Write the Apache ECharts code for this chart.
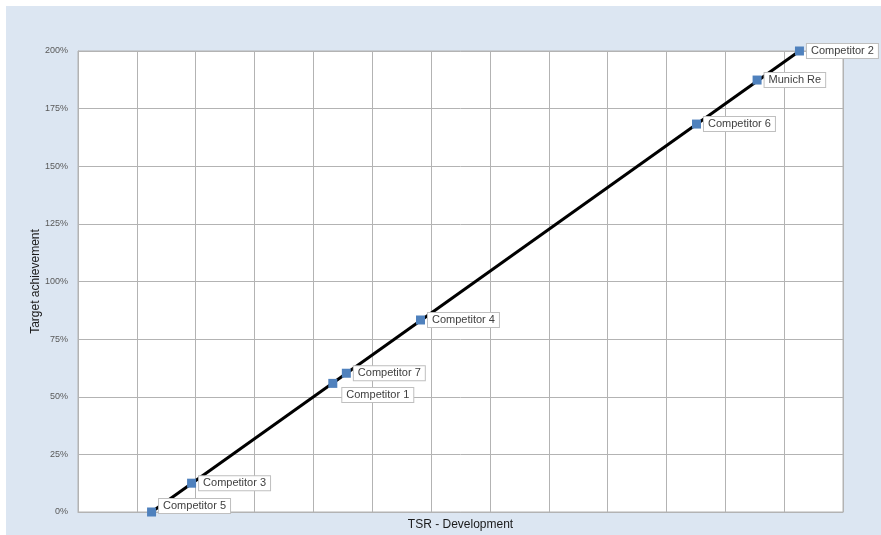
<!DOCTYPE html>
<html>
<head>
<meta charset="utf-8">
<script src="https://cdn.jsdelivr.net/npm/echarts@6/dist/echarts.min.js"></script>
<style>
  html, body { margin: 0; padding: 0; background: #fff; }
  #wrap { position: relative; width: 881px; height: 535px; overflow: hidden; }
  #chart { position: absolute; left: 6px; top: 6px; width: 875px; height: 529px; }
</style>
</head>
<body>
<div id="wrap"><div id="chart"></div></div>
<script>
// companies, ordered along the line
const names = ['Competitor 5', 'Competitor 3', 'Competitor 1', 'Competitor 7',
    'Competitor 4', 'Competitor 6', 'Munich Re', 'Competitor 2'];
// TSR development (x, no labels shown in the original)
const tsr = [1.25, 1.93, 4.33, 4.56, 5.82, 10.51, 11.54, 12.26];
// target achievement in %
const target = [0, 12.5, 55.8, 60.2, 83.3, 168.3, 187.4, 200];
const yTicks = [0, 25, 50, 75, 100, 125, 150, 175, 200];

const font = '"Liberation Sans", Arial, sans-serif';

var chart = echarts.init(document.getElementById('chart'));

var points = names.map((n, i) => {
    var item = { name: n, value: [tsr[i], target[i]] };
    if (n === 'Competitor 1') {
        item.label = { position: [14, 9], align: 'left', verticalAlign: 'top' };
    }
    if (n === 'Competitor 5') {
        item.label = { offset: [0, -6] };
    }
    return item;
});

var option = {
    backgroundColor: '#dce6f2',
    animation: false,
    grid: {
        left: 72, top: 45, width: 765, height: 461,
        outerBoundsMode: 'none',
        show: true, backgroundColor: '#fff', borderColor: '#b3b3b3', borderWidth: 1
    },
    xAxis: {
        type: 'value',
        min: 0,
        max: 13,
        interval: 1,
        name: 'TSR - Development',
        nameLocation: 'middle',
        nameGap: 7,
        nameMoveOverlap: false,
        nameTextStyle: { color: '#1a1a1a', fontSize: 12, fontFamily: font, verticalAlign: 'top' },
        axisLine: { show: true, lineStyle: { color: '#b3b3b3' } },
        axisTick: { show: false },
        axisLabel: { show: false },
        splitLine: { show: true, lineStyle: { color: '#b3b3b3', width: 1 } }
    },
    yAxis: {
        type: 'value',
        min: 0,
        max: 200,
        interval: 25,
        name: 'Target achievement',
        nameLocation: 'middle',
        nameGap: 36,
        nameMoveOverlap: false,
        nameTextStyle: { color: '#1a1a1a', fontSize: 12, fontFamily: font },
        axisLine: { show: true, lineStyle: { color: '#b3b3b3' } },
        axisTick: { show: false },
        axisLabel: {
            color: '#595959', fontSize: 9, fontFamily: font, margin: 10,
            formatter: v => yTicks.includes(v) ? v + '%' : ''
        },
        splitLine: { show: true, lineStyle: { color: '#b3b3b3', width: 1 } }
    },
    series: [
        {
            type: 'line',
            data: [[tsr[0], target[0]], [tsr[tsr.length - 1], target[target.length - 1]]],
            symbol: 'none',
            lineStyle: { color: '#000', width: 3 },
            z: 2,
            silent: true
        },
        {
            type: 'scatter',
            data: points,
            symbol: 'rect',
            symbolSize: 9,
            itemStyle: { color: '#4f81bd', opacity: 1 },
            z: 3,
            label: {
                show: true,
                position: 'right',
                distance: 3,
                formatter: p => p.name,
                color: '#404040',
                fontSize: 11,
                fontFamily: font,
                backgroundColor: '#fff',
                borderColor: '#bfbfbf',
                borderWidth: 1,
                padding: [2, 4, 1, 4]
            }
        }
    ]
};

option && chart.setOption(option);
</script>
</body>
</html>
